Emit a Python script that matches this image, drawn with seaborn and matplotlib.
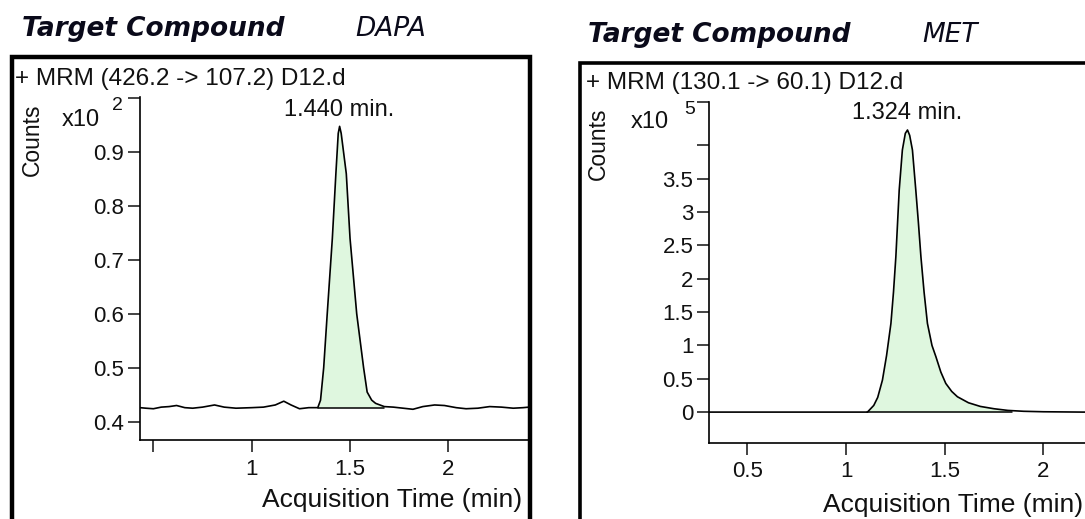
import matplotlib
matplotlib.use("Agg")
import matplotlib.pyplot as plt
from matplotlib.patches import Rectangle
import seaborn as sns

# DAPA trace (counts x10^2)
dapa_time = [0.432, 0.462, 0.50, 0.54, 0.58, 0.618, 0.66, 0.70, 0.75, 0.811, 0.86, 0.92,
             1.00, 1.06, 1.12, 1.163, 1.20, 1.243, 1.29, 1.336, 1.35, 1.366, 1.384, 1.41,
             1.428, 1.44, 1.447, 1.455, 1.481, 1.50, 1.534, 1.569, 1.587, 1.61, 1.63,
             1.674, 1.72, 1.77, 1.82, 1.87, 1.93, 1.98, 2.04, 2.09, 2.15, 2.21, 2.27,
             2.33, 2.38, 2.41]
dapa_counts = [0.426, 0.425, 0.424, 0.427, 0.428, 0.430, 0.426, 0.425, 0.427, 0.431,
               0.427, 0.425, 0.426, 0.427, 0.431, 0.438, 0.431, 0.424, 0.426, 0.426,
               0.440, 0.500, 0.600, 0.740, 0.860, 0.935, 0.948, 0.935, 0.860, 0.740,
               0.600, 0.500, 0.455, 0.440, 0.434, 0.428, 0.427, 0.425, 0.423, 0.428,
               0.431, 0.430, 0.426, 0.424, 0.425, 0.428, 0.427, 0.425, 0.426, 0.427]
dapa_peak = (1.447, 0.948)
dapa_window = (1.336, 1.674)
dapa_base = 0.426

# MET trace (counts x10^5)
met_time = [0.307, 0.60, 0.90, 1.108, 1.14, 1.16, 1.184, 1.205, 1.227, 1.24, 1.252,
            1.269, 1.285, 1.30, 1.311, 1.322, 1.336, 1.353, 1.366, 1.379, 1.395, 1.412,
            1.435, 1.455, 1.48, 1.505, 1.535, 1.564, 1.62, 1.68, 1.75, 1.82, 1.90,
            2.00, 2.20, 2.50]
met_counts = [0.0, 0.0, 0.0, 0.0, 0.10, 0.22, 0.48, 0.85, 1.33, 1.80, 2.33, 3.33, 3.93,
              4.18, 4.23, 4.15, 3.93, 3.33, 2.85, 2.33, 1.80, 1.33, 1.00, 0.83, 0.60,
              0.43, 0.31, 0.23, 0.14, 0.085, 0.05, 0.025, 0.012, 0.005, 0.0, 0.0]
met_peak = (1.311, 4.23)
met_window = (1.108, 1.84)
met_base = 0.0

W, H = 1085, 519


def fx(px):
    return px / W


def fy(py):
    return 1 - py / H


sns.set_style("ticks")
plt.rcParams["font.family"] = ["Liberation Sans", "DejaVu Sans"]

fig = plt.figure(figsize=(10.85, 5.19), dpi=100)
green = "#dff7df"
ink = "#111111"


def draw_trace(ax, t, c, peak, window, base, label):
    sns.lineplot(x=t, y=c, ax=ax, color="black", lw=1.2, estimator=None, sort=False)
    inside = [window[0] <= v <= window[1] for v in t]
    ax.fill_between(t, c, base, where=inside, color=green, lw=0, zorder=0)
    ax.plot(window, [base, base], color="black", lw=1.1)
    ax.annotate(label, xy=peak, xytext=(0, 12), textcoords="offset points",
                ha="center", va="center", fontsize=17, color=ink)
    ax.tick_params(direction="out", length=8.5, width=1.1, labelsize=16, pad=3,
                   colors=ink)
    ax.tick_params(axis="x", pad=5)
    for s in ["top", "right"]:
        ax.spines[s].set_visible(False)
    for s in ["left", "bottom"]:
        ax.spines[s].set_linewidth(1.2)
        ax.spines[s].set_color("black")
    ax.set_xlabel("")
    ax.set_ylabel("")


# left panel: DAPA
ax1 = fig.add_axes([fx(140), fy(440), fx(389), 343.3 / H])
draw_trace(ax1, dapa_time, dapa_counts, dapa_peak, dapa_window, dapa_base, "1.440 min.")
ax1.set_xlim(0.432, 2.41)
ax1.set_ylim(0.366, 1.003)
ax1.set_yticks([0.4, 0.5, 0.6, 0.7, 0.8, 0.9, 1.0])
ax1.set_yticklabels(["0.4", "0.5", "0.6", "0.7", "0.8", "0.9", ""])
ax1.set_xticks([0.5, 1, 1.5, 2])
ax1.set_xticklabels(["", "1", "1.5", "2"])

# right panel: MET (runs past the right edge of the picture)
ax2 = fig.add_axes([fx(709.4), fy(442.5), fx(432.7), 340.5 / H])
draw_trace(ax2, met_time, met_counts, met_peak, met_window, met_base, "1.324 min.")
ax2.set_xlim(0.307, 2.5)
ax2.set_ylim(-0.456, 4.65)
ax2.set_yticks([0, 0.5, 1, 1.5, 2, 2.5, 3, 3.5, 4, 4.65])
ax2.set_yticklabels(["0", "0.5", "1", "1.5", "2", "2.5", "3", "3.5", "", ""])
ax2.set_xticks([0.5, 1, 1.5, 2])
ax2.set_xticklabels(["0.5", "1", "1.5", "2"])

# frames
fig.add_artist(Rectangle((fx(12), -0.1), fx(518), fy(56.5) + 0.1, transform=fig.transFigure,
                         fill=False, lw=3.2, edgecolor="black"))
fig.add_artist(Rectangle((fx(580), -0.1), fx(600), fy(62.5) + 0.1, transform=fig.transFigure,
                         fill=False, lw=2.6, edgecolor="black"))

# headings
fig.text(fx(22), fy(29), "Target Compound", fontsize=19, fontweight="bold",
         fontstyle="italic", family="DejaVu Sans", va="center", color="#0a0a1a")
fig.text(fx(355), fy(29), "DAPA", fontsize=19, fontstyle="italic",
         family="DejaVu Sans", va="center", color="#0a0a1a")
fig.text(fx(588), fy(35), "Target Compound", fontsize=19, fontweight="bold",
         fontstyle="italic", family="DejaVu Sans", va="center", color="#0a0a1a")
fig.text(fx(922), fy(35), "MET", fontsize=19, fontstyle="italic",
         family="DejaVu Sans", va="center", color="#0a0a1a")

fig.text(fx(15), fy(79), "+ MRM (426.2 -> 107.2) D12.d", fontsize=17.5, va="center", color=ink)
fig.text(fx(586), fy(83), "+ MRM (130.1 -> 60.1) D12.d", fontsize=17.5, va="center", color=ink)

fig.text(fx(32), fy(140), "Counts", fontsize=16.5, rotation=90, ha="center", va="center",
         color=ink)
fig.text(fx(598), fy(144), "Counts", fontsize=16.5, rotation=90, ha="center", va="center",
         color=ink)

fig.text(fx(62), fy(120), "x10", fontsize=17, va="center", color=ink)
fig.text(fx(112), fy(106), "2", fontsize=14, va="center", color=ink)
fig.text(fx(631), fy(122), "x10", fontsize=17, va="center", color=ink)
fig.text(fx(684), fy(110), "5", fontsize=14, va="center", color=ink)

fig.text(fx(522), fy(500), "Acquisition Time (min)", fontsize=19, ha="right", va="center",
         color=ink)
fig.text(fx(1083), fy(505), "Acquisition Time (min)", fontsize=19, ha="right", va="center",
         color=ink)

fig.savefig("out.png", dpi=100)
